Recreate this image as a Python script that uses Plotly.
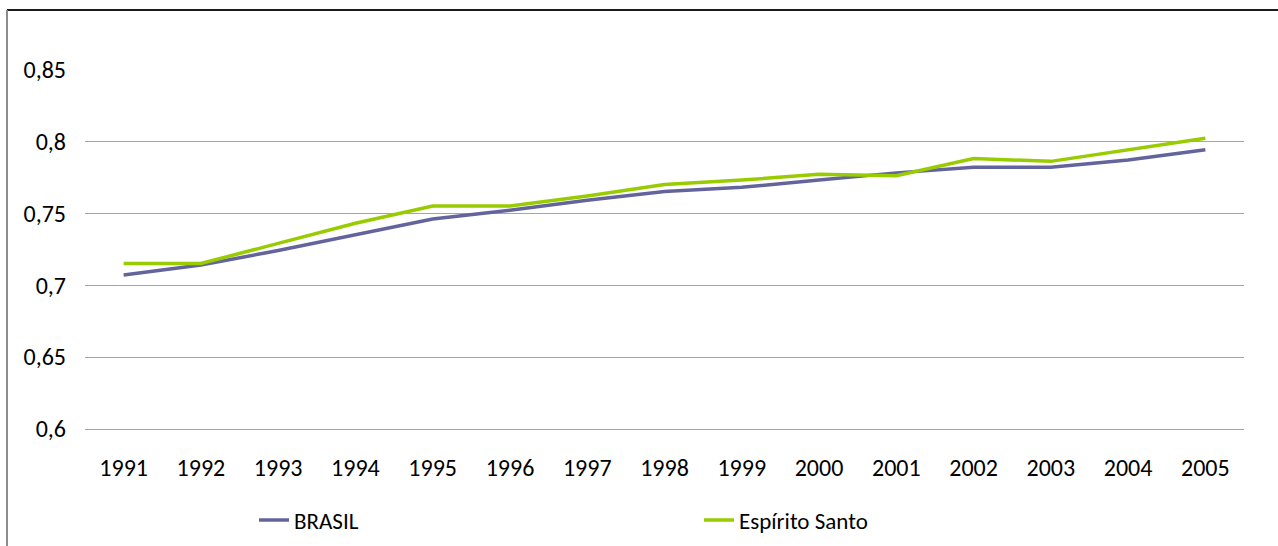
import plotly.graph_objects as go

# Índice de Desenvolvimento Humano, 1991-2005
anos = [str(a) for a in range(1991, 2006)]
brasil = [0.707, 0.714, 0.724, 0.735, 0.746, 0.752, 0.759, 0.765, 0.768,
          0.773, 0.778, 0.782, 0.782, 0.787, 0.794]
espirito_santo = [0.715, 0.715, 0.729, 0.743, 0.755, 0.755, 0.762, 0.770, 0.773,
                  0.777, 0.776, 0.788, 0.786, 0.794, 0.802]
y_ticks = [0.6, 0.65, 0.7, 0.75, 0.8, 0.85]
y_tick_labels = ["0,6", "0,65", "0,7", "0,75", "0,8", "0,85"]

FONT = "Carlito, Lato, sans-serif"
GRID = "#A6A6A6"

fig = go.Figure()
fig.add_trace(go.Scatter(x=anos, y=brasil, name="BRASIL", mode="lines",
                         line=dict(color="#64649C", width=3.5)))
fig.add_trace(go.Scatter(x=anos, y=espirito_santo, name="Espírito Santo", mode="lines",
                         line=dict(color="#99CC00", width=3.5)))

W, H = 1278, 546
ml, mr, mt, mb = 85, 34, 69, 117
pw, ph = W - ml - mr, H - mt - mb

def px_x(x):
    return (x - ml) / pw

def px_y(y):
    return (H - mb - y) / ph

fig.update_layout(
    width=W, height=H,
    margin=dict(l=ml, r=mr, t=mt, b=mb, autoexpand=False),
    paper_bgcolor="white", plot_bgcolor="white",
    font=dict(family=FONT, size=24, color="#000000"),
    showlegend=True,
    legend=dict(orientation="h", x=px_x(254), xanchor="left",
                y=px_y(520), yanchor="middle",
                entrywidth=400, entrywidthmode="pixels",
                font=dict(family=FONT, size=23, color="#000000"),
                bgcolor="rgba(0,0,0,0)"),
    xaxis=dict(type="category", range=[-0.5, 14.5], showgrid=False,
               showline=True, linecolor=GRID, linewidth=1,
               ticks="", ticklabelstandoff=17,
               tickfont=dict(family=FONT, size=24, color="#000000")),
    yaxis=dict(range=[0.6, 0.8502], tickvals=y_ticks, ticktext=y_tick_labels,
               showgrid=True, gridcolor=GRID, gridwidth=1, zeroline=False,
               showline=False, ticks="", ticklabelstandoff=18,
               tickfont=dict(family=FONT, size=24, color="#000000")),
    shapes=[
        # outer frame: dark top rule and grey left rule
        dict(type="line", xref="paper", yref="paper",
             x0=px_x(7), x1=px_x(W + 5), y0=px_y(10), y1=px_y(10),
             line=dict(color="#1A1A1A", width=2)),
        dict(type="line", xref="paper", yref="paper",
             x0=px_x(7), x1=px_x(7), y0=px_y(10), y1=px_y(H + 5),
             line=dict(color="#8C8C8C", width=2)),
    ],
)

fig.write_html("out.html")
